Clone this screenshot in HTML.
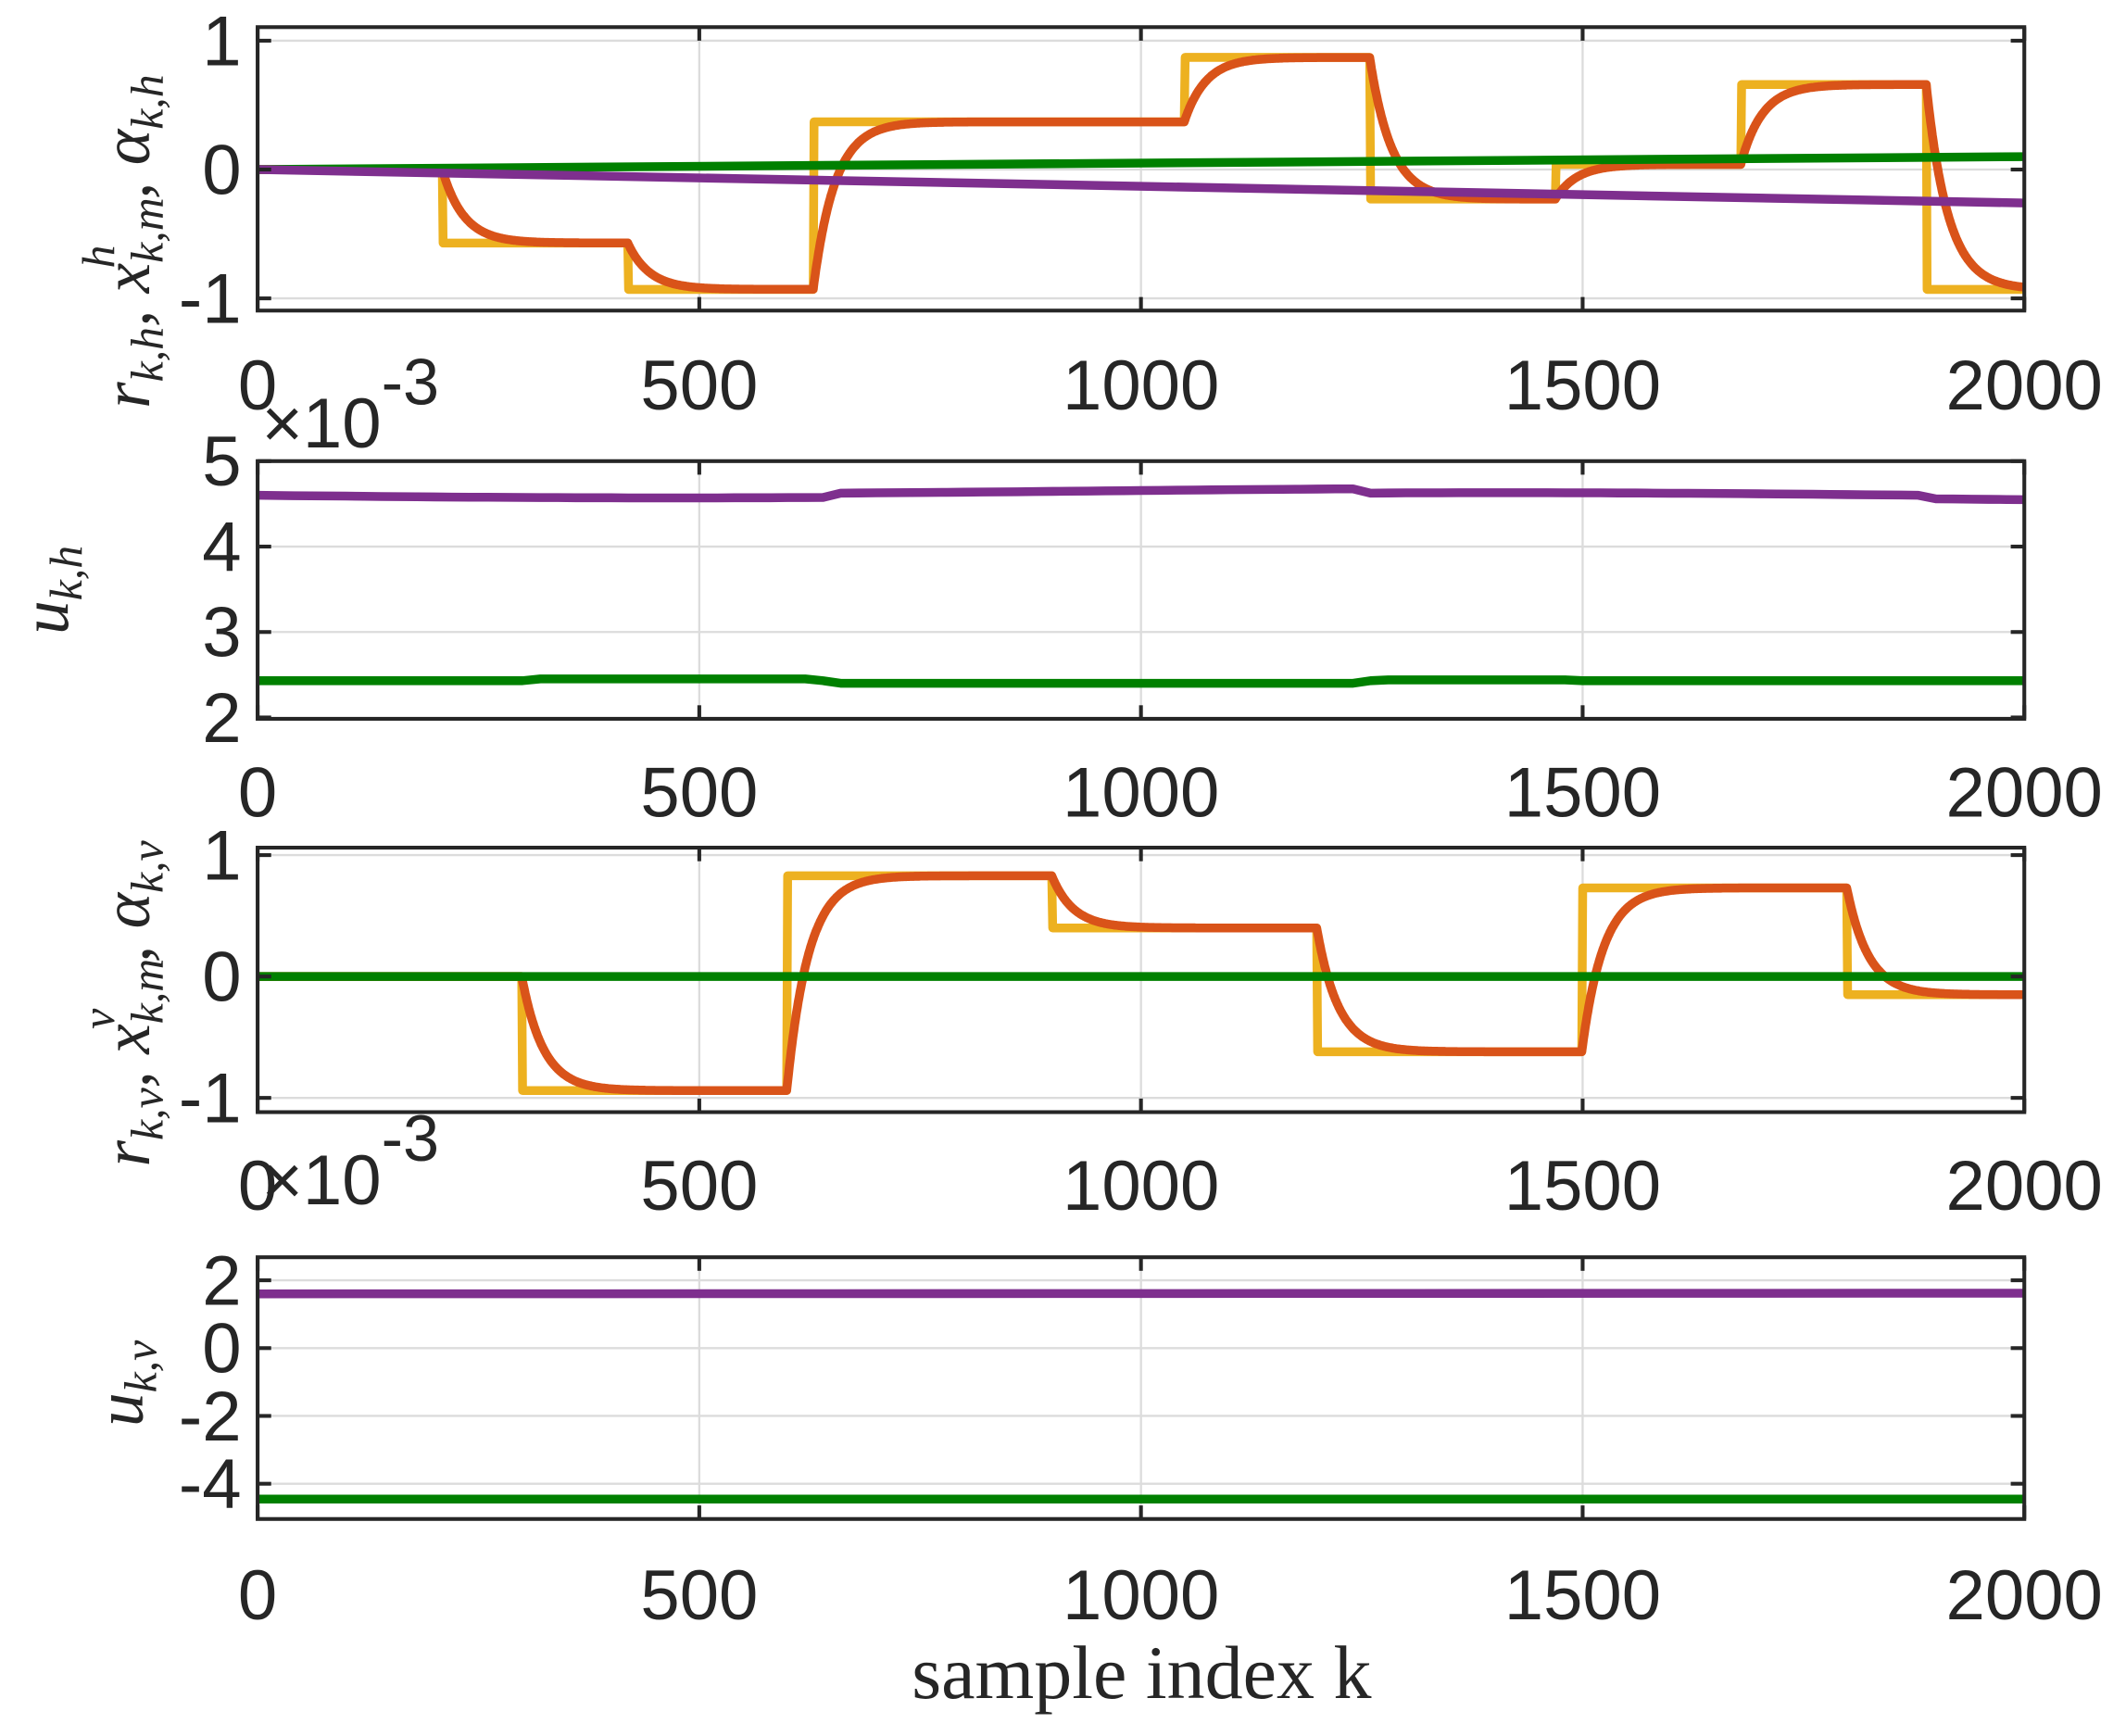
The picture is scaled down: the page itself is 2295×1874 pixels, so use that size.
<!DOCTYPE html>
<html><head><meta charset="utf-8">
<style>html,body{margin:0;padding:0;background:#fff;}svg{display:block}</style>
</head><body>
<svg id="s" width="2295" height="1874" viewBox="0 0 1568 1280" preserveAspectRatio="none" xmlns="http://www.w3.org/2000/svg">
<g id="grid" stroke="#dcdcdc" stroke-width="1.6" fill="none"></g>
<g id="data" fill="none" stroke-linejoin="round" stroke-width="6.5"></g>
<g id="axes" stroke="#262626" stroke-width="2.8" fill="none"></g>
<g id="txt" fill="#262626" font-family="Liberation Sans, sans-serif" font-size="52"></g>
<g fill="#262626" font-family="Liberation Serif, serif" font-style="italic" font-size="50">
 <text transform="translate(110,178) rotate(-90)" text-anchor="middle">r<tspan font-size="34" dy="10">k,h</tspan><tspan dy="-10">, x</tspan><tspan font-size="34" dy="10">k,m</tspan><tspan font-size="34" dx="-52" dy="-36">h</tspan><tspan dx="34" dy="26">, α</tspan><tspan font-size="34" dy="10">k,h</tspan></text>
 <text transform="translate(50,435) rotate(-90)" text-anchor="middle">u<tspan font-size="34" dy="10">k,h</tspan></text>
 <text transform="translate(110,740) rotate(-90)" text-anchor="middle">r<tspan font-size="34" dy="10">k,v</tspan><tspan dy="-10">, x</tspan><tspan font-size="34" dy="10">k,m</tspan><tspan font-size="34" dx="-52" dy="-36">v</tspan><tspan dx="34" dy="26">, α</tspan><tspan font-size="34" dy="10">k,v</tspan></text>
 <text transform="translate(105,1020) rotate(-90)" text-anchor="middle">u<tspan font-size="34" dy="10">k,v</tspan></text>
</g>
<text x="842" y="1252" text-anchor="middle" font-family="Liberation Serif, serif" font-size="56" fill="#262626">sample index k</text>
</svg>
<script>
var NS="http://www.w3.org/2000/svg";
var L=190,R=1493;
function X(k){return L+k*(R-L)/2000;}
function el(p,t,a,txt){var e=document.createElementNS(NS,t);for(var k in a)e.setAttribute(k,a[k]);if(txt!==undefined)e.textContent=txt;document.getElementById(p).appendChild(e);return e;}
var panels=[
 {top:20,bot:229,Y:function(v){return 125-95*v;},ticks:[-1,0,1],lab:["-1","0","1"],xl:302},
 {top:340,bot:530,Y:function(v){return 529-63*(v-2);},ticks:[2,3,4,5],lab:["2","3","4","5"],xl:602,exp:330},
 {top:625,bot:820,Y:function(v){return 720-89.5*v;},ticks:[-1,0,1],lab:["-1","0","1"],xl:892},
 {top:927,bot:1120,Y:function(v){return 994-25*v;},ticks:[-4,-2,0,2],lab:["-4","-2","0","2"],xl:1194,exp:888}
];
panels.forEach(function(p){
 [500,1000,1500].forEach(function(k){el("grid","line",{x1:X(k),x2:X(k),y1:p.top,y2:p.bot});});
 p.ticks.forEach(function(v,i){var y=p.Y(v);
  if(y>p.top+1&&y<p.bot-1)el("grid","line",{x1:L,x2:R,y1:y,y2:y});
  el("axes","line",{x1:L,x2:L+10,y1:y,y2:y});el("axes","line",{x1:R-10,x2:R,y1:y,y2:y});
  el("txt","text",{x:178,y:y+18,"text-anchor":"end"},p.lab[i]);});
 [0,500,1000,1500,2000].forEach(function(k){
  el("axes","line",{x1:X(k),x2:X(k),y1:p.bot,y2:p.bot-10});el("axes","line",{x1:X(k),x2:X(k),y1:p.top,y2:p.top+10});
  el("txt","text",{x:X(k),y:p.xl,"text-anchor":"middle"},String(k));});
 el("axes","rect",{x:L,y:p.top,width:R-L,height:p.bot-p.top});
});
[330,888].forEach(function(y){var t=el("txt","text",{x:193,y:y});t.innerHTML='×10<tspan font-size="48" dy="-32">-3</tspan>';});
function path(pts,col,w){var d="M"+pts.map(function(q){return q[0].toFixed(1)+","+q[1].toFixed(1);}).join("L");el("data","path",{d:d,stroke:col});}
function ref(steps,k){var v=0;for(var i=0;i<steps.length;i++)if(k>=steps[i][0])v=steps[i][1];return v;}
function draw(p,steps){
 var a=[],b=[],x=0;
 for(var k=0;k<=2000;k++){var r=ref(steps,k);a.push([X(k),p.Y(r)]);x+=(r-x)*0.04;b.push([X(k),p.Y(x)]);}
 path(a,"#EDB120");path(b,"#D95319");
}
var p1=panels[0],p2=panels[1],p3=panels[2],p4=panels[3];
var s1=[[210,-0.57],[420,-0.93],[630,0.37],[1050,0.87],[1260,-0.23],[1470,0.04],[1680,0.66],[1890,-0.93]];
draw(p1,s1);
path([[X(0),p1.Y(0)],[X(2000),p1.Y(0.1)]],"#008000");
path([[X(0),p1.Y(0)],[X(2000),p1.Y(-0.26)]],"#7E2F8E");
var pu=[],gu=[];
for(var k=0;k<=2000;k+=20){
 var pv=4.6-0.03*Math.sin(k/300)+(k>640&&k<1260?0.05:0)+(k>1890?-0.04:0);
 var gv=2.43+(k>300&&k<630?0.02:0)+(k>640&&k<1260?-0.03:0)+(k>1260&&k<1500?0.01:0);
 pu.push([X(k),p2.Y(pv)]);gu.push([X(k),p2.Y(gv)]);}
path(pu,"#7E2F8E");path(gu,"#008000");
var s3=[[300,-0.94],[600,0.83],[900,0.4],[1200,-0.62],[1500,0.73],[1800,-0.15]];
draw(p3,s3);
path([[X(0),p3.Y(0)],[X(2000),p3.Y(0)]],"#008000");
path([[X(0),p4.Y(1.6)],[X(2000),p4.Y(1.62)]],"#7E2F8E");
path([[X(0),p4.Y(-4.45)],[X(2000),p4.Y(-4.45)]],"#008000");
</script>
</body></html>
